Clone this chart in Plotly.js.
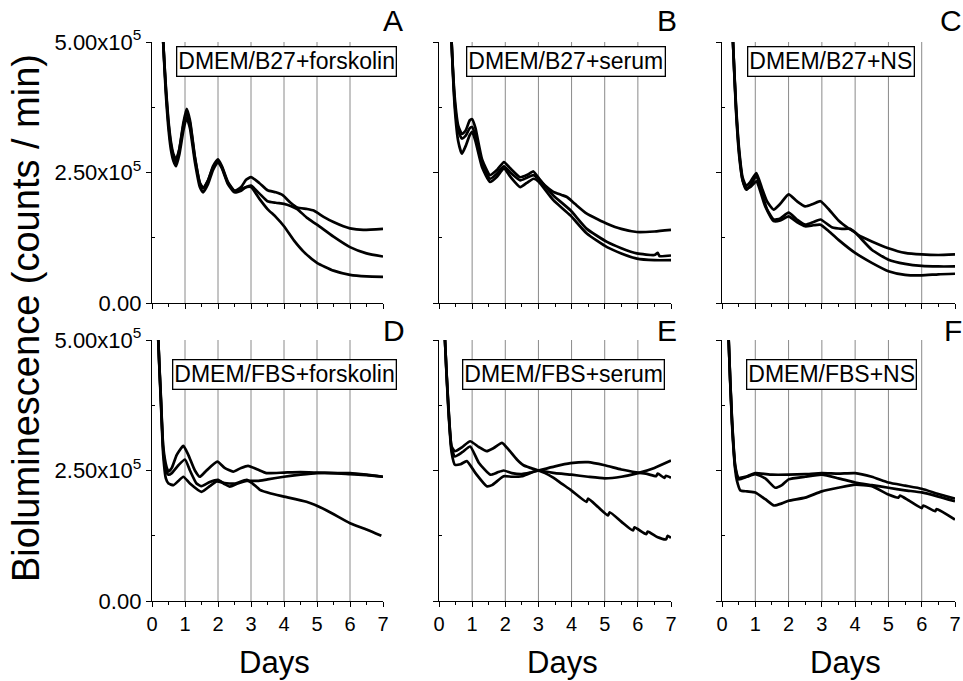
<!DOCTYPE html>
<html>
<head>
<meta charset="utf-8">
<script src="https://cdn.plot.ly/plotly-3.0.1.min.js"></script>
<style>html,body{margin:0;padding:0;background:#fff;}#chart{width:963px;height:681px;}</style>
</head>
<body>
<div id="chart"></div>
<script>
// Bioluminescence values in units of 1e5 counts/min; x = days
// Panel A: DMEM/B27+forskolin
const daysA1 = [0.27,0.34,0.42,0.49,0.57,0.65,0.73,0.83,0.95,1.05,1.15,1.3,1.45,1.55,1.7,1.85,2.0,2.12,2.3,2.5,2.7,2.85,3.0,3.25,3.5,3.75,3.95,4.2,4.4,4.7,4.9,5.2,5.5,5.8,6.0,6.4,7.0];
const lumA1  = [6.5,5.0,4.1,3.5,3.05,2.8,2.7,2.95,3.45,3.72,3.5,2.8,2.3,2.2,2.35,2.6,2.73,2.6,2.3,2.15,2.22,2.36,2.41,2.3,2.16,2.12,2.07,1.92,1.83,1.8,1.77,1.65,1.55,1.47,1.43,1.40,1.42];
const daysA2 = [0.27,0.34,0.42,0.49,0.57,0.65,0.73,0.83,0.95,1.05,1.15,1.3,1.45,1.55,1.7,1.85,2.0,2.12,2.3,2.5,2.7,2.85,3.0,3.25,3.5,3.75,4.0,4.2,4.4,4.7,5.0,5.5,6.0,6.5,7.0];
const lumA2  = [6.5,5.0,4.0,3.4,2.95,2.72,2.62,2.85,3.3,3.55,3.35,2.7,2.22,2.12,2.28,2.55,2.7,2.58,2.28,2.12,2.15,2.22,2.25,2.1,1.95,1.92,1.9,1.86,1.8,1.63,1.5,1.27,1.07,0.95,0.89];
const daysA3 = [0.27,0.34,0.42,0.49,0.57,0.65,0.73,0.83,0.95,1.05,1.15,1.3,1.45,1.55,1.7,1.85,2.0,2.12,2.3,2.5,2.7,2.85,3.0,3.25,3.5,3.75,4.0,4.3,4.6,5.0,5.5,6.0,6.5,7.0];
const lumA3  = [6.5,5.0,4.15,3.55,3.1,2.85,2.75,2.95,3.4,3.65,3.45,2.78,2.3,2.2,2.35,2.62,2.75,2.62,2.32,2.15,2.18,2.22,2.22,2.0,1.8,1.65,1.47,1.2,0.98,0.77,0.62,0.54,0.51,0.50];

// Panel B: DMEM/B27+serum
const daysB1 = [0.3,0.38,0.48,0.58,0.69,0.8,0.93,1.0,1.1,1.3,1.54,1.75,1.96,2.15,2.45,2.65,2.85,3.0,3.2,3.45,3.7,3.86,4.1,4.46,4.8,5.07,5.5,5.97,6.5,7.0];
const lumB1  = [6.5,5.0,3.9,3.4,3.24,3.3,3.5,3.52,3.35,2.75,2.45,2.55,2.7,2.58,2.41,2.45,2.52,2.4,2.25,2.13,2.07,2.03,1.9,1.71,1.6,1.52,1.42,1.36,1.37,1.40];
const daysB2 = [0.3,0.38,0.48,0.58,0.69,0.8,0.93,1.0,1.1,1.3,1.54,1.75,1.96,2.15,2.45,2.65,2.85,3.0,3.45,3.96,4.46,5.07,5.5,5.97,6.5,6.6,6.65,7.0];
const lumB2  = [6.5,5.0,3.8,3.3,3.15,3.2,3.35,3.37,3.2,2.65,2.38,2.48,2.62,2.5,2.35,2.4,2.45,2.38,2.06,1.78,1.42,1.17,1.05,0.95,0.92,0.96,0.9,0.91];
const daysB3 = [0.3,0.38,0.48,0.58,0.69,0.8,0.93,1.0,1.1,1.3,1.54,1.75,1.96,2.15,2.45,2.65,2.85,3.0,3.45,3.96,4.46,5.07,5.5,5.97,6.5,7.0];
const lumB3  = [6.5,5.0,3.7,3.1,2.86,3.0,3.22,3.28,3.1,2.6,2.32,2.42,2.58,2.42,2.22,2.3,2.38,2.33,1.97,1.68,1.33,1.07,0.95,0.85,0.82,0.82];

// Panel C: DMEM/B27+NS
const daysC1 = [0.25,0.33,0.42,0.52,0.62,0.73,0.85,1.03,1.2,1.35,1.55,1.75,2.0,2.25,2.5,2.75,2.96,3.2,3.5,3.8,4.0,4.5,5.0,5.5,6.0,6.5,7.0];
const lumC1  = [6.5,5.0,3.8,2.9,2.4,2.24,2.32,2.49,2.2,1.95,1.79,1.9,2.08,1.95,1.85,1.9,1.95,1.8,1.58,1.43,1.35,1.02,0.83,0.75,0.71,0.70,0.70];
const daysC2 = [0.25,0.33,0.42,0.52,0.62,0.73,0.85,1.03,1.2,1.35,1.55,1.75,2.0,2.25,2.5,2.75,2.96,3.3,3.6,3.85,4.1,4.5,5.0,5.5,6.0,6.5,7.0];
const lumC2  = [6.5,5.0,3.75,2.85,2.35,2.17,2.25,2.43,2.1,1.8,1.6,1.62,1.73,1.6,1.5,1.55,1.6,1.45,1.42,1.42,1.3,1.18,1.05,0.96,0.93,0.92,0.93];
const daysC3 = [0.25,0.33,0.42,0.52,0.62,0.73,0.85,1.03,1.3,1.55,1.75,2.0,2.25,2.5,2.75,2.96,3.2,3.5,4.0,4.5,5.0,5.5,6.0,6.5,7.0];
const lumC3  = [6.5,5.0,3.7,2.8,2.35,2.2,2.22,2.33,1.85,1.57,1.58,1.66,1.55,1.47,1.49,1.5,1.38,1.21,0.96,0.77,0.61,0.54,0.53,0.55,0.56];

// Panel D: DMEM/FBS+forskolin
const daysD1 = [0.17,0.19,0.27,0.34,0.44,0.5,0.6,0.75,0.95,1.1,1.3,1.45,1.65,1.98,2.2,2.46,2.7,2.91,3.2,3.47,4.0,4.5,5.0,5.5,6.0,6.5,7.0];
const lumD1  = [6.0,5.0,3.9,2.96,2.57,2.48,2.55,2.8,2.97,2.8,2.5,2.38,2.5,2.67,2.55,2.48,2.55,2.59,2.52,2.45,2.46,2.47,2.46,2.45,2.45,2.42,2.38];
const daysD2 = [0.17,0.19,0.27,0.34,0.42,0.5,0.6,0.8,1.0,1.15,1.35,1.5,1.75,2.0,2.2,2.36,2.6,2.87,3.2,3.5,4.0,4.5,5.0,5.5,6.0,6.5,7.0];
const lumD2  = [6.0,5.0,3.85,2.9,2.5,2.42,2.45,2.6,2.71,2.5,2.25,2.2,2.28,2.32,2.24,2.19,2.25,2.3,2.3,2.33,2.38,2.42,2.45,2.45,2.43,2.41,2.38];
const daysD3 = [0.17,0.19,0.27,0.34,0.42,0.5,0.65,0.8,0.95,1.15,1.5,1.75,1.96,2.2,2.5,2.87,3.05,3.27,3.6,4.0,4.68,5.28,6.0,6.5,6.95];
const lumD3  = [6.0,5.0,3.8,2.8,2.35,2.25,2.22,2.3,2.38,2.25,2.09,2.2,2.29,2.26,2.25,2.32,2.25,2.13,2.06,2.0,1.9,1.74,1.49,1.37,1.25];

// Panel E: DMEM/FBS+serum
const daysE1 = [0.16,0.18,0.28,0.38,0.48,0.7,0.94,1.2,1.44,1.65,1.9,2.1,2.35,2.55,2.76,3.0,3.2,3.46,3.7,3.97,4.45,4.5,4.8,5.1,5.15,5.5,5.85,5.9,6.25,6.3,6.6,6.85,6.9,7.0];
const lumE1  = [6.0,5.0,3.78,2.96,2.87,2.95,3.06,2.95,2.87,2.93,3.03,2.9,2.71,2.6,2.55,2.5,2.45,2.36,2.25,2.13,1.9,1.96,1.8,1.64,1.7,1.52,1.35,1.41,1.28,1.33,1.22,1.18,1.25,1.21];
const daysE2 = [0.16,0.18,0.28,0.38,0.48,0.7,0.94,1.2,1.55,1.75,1.95,2.2,2.5,2.75,3.0,3.5,3.97,4.5,5.0,5.5,6.0,6.3,6.55,6.6,6.8,6.85,7.0];
const lumE2  = [6.0,5.0,3.75,2.92,2.77,2.85,2.96,2.65,2.42,2.46,2.5,2.45,2.43,2.46,2.5,2.58,2.64,2.66,2.6,2.52,2.46,2.43,2.39,2.44,2.36,2.4,2.36];
const daysE3 = [0.16,0.18,0.28,0.38,0.48,0.65,0.84,1.1,1.44,1.6,1.95,2.2,2.5,2.75,3.0,3.5,4.0,4.5,5.0,5.5,6.0,6.5,7.0];
const lumE3  = [6.0,5.0,3.7,2.85,2.61,2.62,2.68,2.45,2.2,2.22,2.39,2.38,2.39,2.45,2.5,2.45,2.42,2.38,2.35,2.38,2.45,2.55,2.69];

// Panel F: DMEM/FBS+NS
const daysF1 = [0.18,0.2,0.3,0.4,0.5,0.7,1.0,1.5,2.0,2.5,3.0,3.5,4.0,4.5,5.0,5.5,6.0,6.5,7.0];
const lumF1  = [6.0,5.0,3.48,2.58,2.36,2.38,2.45,2.42,2.42,2.43,2.45,2.44,2.45,2.38,2.27,2.21,2.15,2.05,1.96];
const daysF2 = [0.18,0.2,0.3,0.4,0.5,0.75,1.0,1.3,1.6,1.8,2.0,2.5,3.0,3.5,4.0,4.5,5.0,5.5,6.0,6.5,7.0];
const lumF2  = [6.0,5.0,3.45,2.55,2.33,2.38,2.43,2.35,2.17,2.22,2.33,2.38,2.42,2.35,2.27,2.22,2.17,2.12,2.08,2.0,1.91];
const daysF3 = [0.18,0.2,0.3,0.4,0.45,0.55,0.75,1.0,1.3,1.56,1.8,2.0,2.5,3.0,3.5,4.0,4.5,5.0,5.3,5.35,5.6,6.0,6.05,6.4,6.45,7.0];
const lumF3  = [6.0,5.0,3.4,2.5,2.3,2.12,2.1,2.08,1.95,1.83,1.87,1.92,1.98,2.1,2.17,2.23,2.2,2.04,1.98,2.02,1.93,1.78,1.83,1.72,1.76,1.56];

const panelNames = ["DMEM/B27+forskolin","DMEM/B27+serum","DMEM/B27+NS","DMEM/FBS+forskolin","DMEM/FBS+serum","DMEM/FBS+NS"];
const panelLetters = ["A","B","C","D","E","F"];
const yTickVals = [0, 2.5, 5];
const yTickText = ["0.00", "2.50x10<sup>5</sup>", "5.00x10<sup>5</sup>"];
const gridDays = [1,2,3,4,5,6];
const xTitle = "Days";
const yTitle = "Bioluminescence (counts / min)";

const panels = [
  [[daysA1,lumA1],[daysA2,lumA2],[daysA3,lumA3]],
  [[daysB1,lumB1],[daysB2,lumB2],[daysB3,lumB3]],
  [[daysC1,lumC1],[daysC2,lumC2],[daysC3,lumC3]],
  [[daysD1,lumD1],[daysD2,lumD2],[daysD3,lumD3]],
  [[daysE1,lumE1],[daysE2,lumE2],[daysE3,lumE3]],
  [[daysF1,lumF1],[daysF2,lumF2],[daysF3,lumF3]]
];

const W = 963, H = 681;
const FONT = "Liberation Sans, Arial, Helvetica, sans-serif";
// pixel layout
const colX = [[152,383],[439,671],[722,955]];
const rowY = [[42,303],[340,601]];
const px = v => v / W;
const py = v => 1 - v / H;

const traces = [];
const layout = {
  width: W, height: H,
  margin: {l:0, r:0, t:0, b:0},
  paper_bgcolor: "#fff", plot_bgcolor: "rgba(0,0,0,0)",
  showlegend: false,
  font: {family: FONT, color: "#000"},
  shapes: [], annotations: []
};

const boxCenters = [[286,61.5],[566,61.5],[831,61.5],[284.5,375],[563.5,375],[831.5,375]];
const letterPos = [[393,20],[667,20],[951,20],[394,330],[667,330],[953,330]];
const daysPos = [274.5, 562, 845];

panels.forEach((series, i) => {
  const r = Math.floor(i/3), c = i % 3;
  const sfx = i === 0 ? "" : String(i+1);
  const xa = "x" + sfx, ya = "y" + sfx;
  series.forEach(([xs, ys]) => {
    traces.push({
      type: "scatter", mode: "lines", x: xs, y: ys, xaxis: xa, yaxis: ya,
      line: {color: "#000", width: 2.7, shape: "spline", smoothing: 0.5},
      hoverinfo: "skip"
    });
  });
  layout["xaxis" + sfx] = {
    domain: [px(colX[c][0]), px(colX[c][1])], anchor: ya,
    range: [0, 7], tickmode: "linear", tick0: 0, dtick: 1,
    ticks: "outside", ticklen: 5, tickwidth: 1, tickcolor: "#000",
    minor: {dtick: 0.5, tick0: 0, ticks: "outside", ticklen: 3, tickwidth: 1, tickcolor: "#000"},
    showline: true, linecolor: "#000", linewidth: 1.2,
    showgrid: false, zeroline: false,
    showticklabels: r === 1, tickfont: {size: 20, family: FONT, color: "#000"},
    fixedrange: true
  };
  layout["yaxis" + sfx] = {
    domain: [py(rowY[r][1]), py(rowY[r][0])], anchor: xa,
    range: [0, 5], tickmode: "array", tickvals: yTickVals, ticktext: yTickText,
    ticks: "outside", ticklen: 5, tickwidth: 1, tickcolor: "#000",
    minor: {tickvals: [1.25, 3.75], ticks: "inside", ticklen: 3, tickwidth: 1, tickcolor: "#000"},
    showline: true, linecolor: "#000", linewidth: 1.2,
    showgrid: false, zeroline: false,
    showticklabels: c === 0, tickfont: {size: 22, family: FONT, color: "#000"},
    fixedrange: true
  };
  gridDays.forEach(d => {
    layout.shapes.push({type: "line", layer: "below", xref: xa, yref: ya + " domain",
      x0: d, x1: d, y0: 0, y1: 1, line: {color: "#8a8a8a", width: 1}});
  });
  layout.annotations.push({
    xref: "paper", yref: "paper", x: px(boxCenters[i][0]), y: py(boxCenters[i][1]),
    xanchor: "center", yanchor: "middle", showarrow: false,
    text: panelNames[i], font: {size: 23, family: FONT, color: "#000"},
    bgcolor: "#fff", bordercolor: "#000", borderwidth: 1.3, borderpad: 1
  });
  layout.annotations.push({
    xref: "paper", yref: "paper", x: px(letterPos[i][0]), y: py(letterPos[i][1]),
    xanchor: "center", yanchor: "middle", showarrow: false,
    text: panelLetters[i], font: {size: 30, family: FONT, color: "#000"}
  });
  if (r === 1) {
    layout.annotations.push({
      xref: "paper", yref: "paper", x: px(daysPos[c]), y: py(662),
      xanchor: "center", yanchor: "middle", showarrow: false,
      text: xTitle, font: {size: 31, family: FONT, color: "#000"}
    });
  }
});

layout.annotations.push({
  xref: "paper", yref: "paper", x: px(26), y: py(318),
  xanchor: "center", yanchor: "middle", showarrow: false, textangle: -90,
  text: yTitle, font: {size: 38, family: FONT, color: "#000"}
});

Plotly.newPlot("chart", traces, layout, {displayModeBar: false, staticPlot: true});
</script>
</body>
</html>
